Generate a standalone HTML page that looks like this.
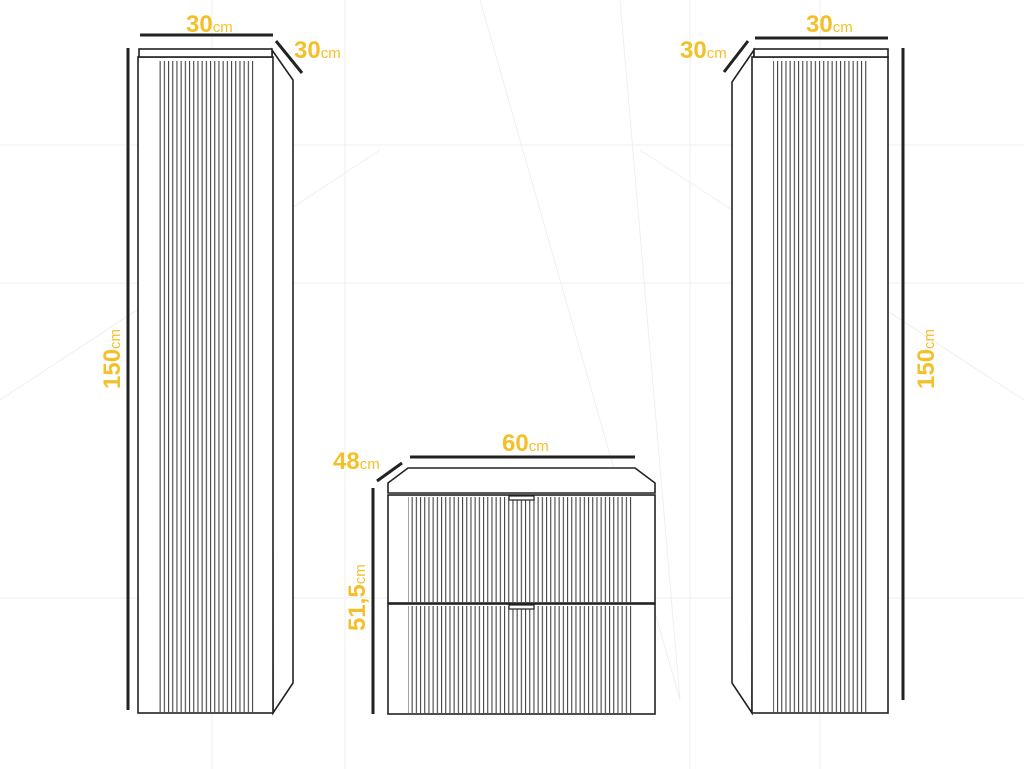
<!DOCTYPE html>
<html><head><meta charset="utf-8"><style>
html,body{margin:0;padding:0;background:#fff}
svg{display:block}
text{font-family:"Liberation Sans",sans-serif;fill:#f4c02a}
.b{font-weight:bold;font-size:24px}
.s{font-size:15px}
</style></head><body>
<svg width="1024" height="769" viewBox="0 0 1024 769" xmlns="http://www.w3.org/2000/svg">
<defs>
<pattern id="fl" x="0" y="0" width="4.2" height="10" patternUnits="userSpaceOnUse">
<rect x="0" y="0" width="1.1" height="10" fill="#444"/>
</pattern>
</defs>
<g stroke="#efefef" stroke-width="1" fill="none">
<line x1="0" y1="145" x2="1024" y2="145"/>
<line x1="0" y1="283" x2="1024" y2="283"/>
<line x1="0" y1="598" x2="1024" y2="598"/>
<line x1="212" y1="0" x2="212" y2="769"/>
<line x1="345" y1="0" x2="345" y2="769"/>
<line x1="690" y1="0" x2="690" y2="769"/>
<line x1="820" y1="0" x2="820" y2="769"/>
<line x1="0" y1="400" x2="380" y2="150"/>
<line x1="1024" y1="400" x2="640" y2="150"/>
<line x1="480" y1="0" x2="680" y2="700"/>
<line x1="620" y1="0" x2="680" y2="700"/>
</g>
<g stroke="#222" stroke-width="1.6" fill="#fff">
<polygon points="272,50 293,80 293,683 273,713"/>
<rect x="138" y="57" width="135" height="656"/>
<rect x="139" y="49" width="133" height="8"/>
</g>
<rect x="158" y="61" width="96" height="651" fill="url(#fl)"/>
<g stroke="#222" stroke-width="1.6" fill="#fff">
<polygon points="754,50 732,82 732,683 752,713"/>
<rect x="752" y="57" width="136" height="656"/>
<rect x="754" y="49" width="134" height="8"/>
</g>
<rect x="773" y="61" width="96" height="651" fill="url(#fl)"/>
<g stroke="#222" stroke-width="1.6" fill="#fff">
<polygon points="388,493 388,483 408,468 635,468 655,483 655,493"/>
<rect x="388" y="495" width="267" height="108"/>
<rect x="388" y="604" width="267" height="110"/>
</g>
<rect x="408" y="497" width="224" height="105" fill="url(#fl)"/>
<rect x="408" y="606" width="224" height="107" fill="url(#fl)"/>
<g stroke="#222" stroke-width="1.2" fill="#fff">
<rect x="509" y="496" width="25" height="4"/>
<rect x="509" y="605" width="25" height="4"/>
</g>
<g stroke="#222" stroke-width="3">
<line x1="128" y1="48" x2="128" y2="710"/>
<line x1="140" y1="35" x2="273" y2="35"/>
<line x1="276" y1="41" x2="302" y2="73"/>
<line x1="903" y1="48" x2="903" y2="700"/>
<line x1="755" y1="38" x2="888" y2="38"/>
<line x1="748" y1="41" x2="724" y2="72"/>
<line x1="373" y1="488" x2="373" y2="714"/>
<line x1="410" y1="457" x2="635" y2="457"/>
<line x1="377" y1="481" x2="402" y2="463"/>
</g>
<text x="186" y="32"><tspan class="b">30</tspan><tspan class="s">cm</tspan></text>
<text x="294" y="58"><tspan class="b">30</tspan><tspan class="s">cm</tspan></text>
<text x="806" y="32"><tspan class="b">30</tspan><tspan class="s">cm</tspan></text>
<text x="680" y="58"><tspan class="b">30</tspan><tspan class="s">cm</tspan></text>
<text x="502" y="451"><tspan class="b">60</tspan><tspan class="s">cm</tspan></text>
<text x="333" y="469"><tspan class="b">48</tspan><tspan class="s">cm</tspan></text>
<text transform="translate(120,389) rotate(-90)"><tspan class="b">150</tspan><tspan class="s">cm</tspan></text>
<text transform="translate(934,389) rotate(-90)"><tspan class="b">150</tspan><tspan class="s">cm</tspan></text>
<text transform="translate(365,631) rotate(-90)"><tspan class="b">51,5</tspan><tspan class="s">cm</tspan></text>
</svg>
</body></html>
